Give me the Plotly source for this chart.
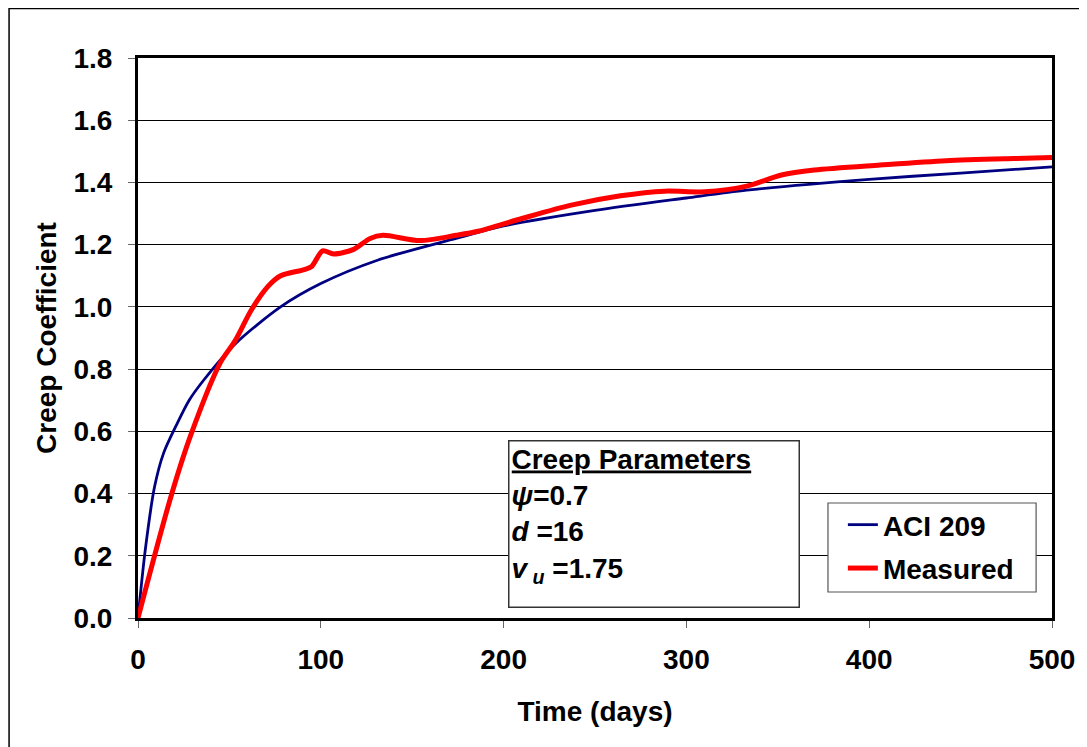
import plotly.graph_objects as go

# ---- data ----
aci_days = [0, 4, 9, 14, 21, 28, 36, 53, 78, 100, 131, 174, 200, 250, 300, 333, 400, 450, 500]
aci_vals = [0, 0.22, 0.42, 0.53, 0.62, 0.70, 0.765, 0.88, 1.0, 1.075, 1.15, 1.22, 1.26, 1.31, 1.35, 1.375, 1.41, 1.43, 1.45]

meas_days = [0, 18, 29, 45, 53, 62, 71, 78, 91, 95, 101, 107, 118, 127, 134, 154, 174, 186,
             210, 237, 264, 288, 310, 333, 352, 370, 406, 442, 479, 500]
meas_vals = [0, 0.39, 0.59, 0.82, 0.89, 0.99, 1.065, 1.10, 1.12, 1.13, 1.18, 1.17, 1.185, 1.22, 1.23, 1.213, 1.23, 1.243,
             1.284, 1.327, 1.357, 1.372, 1.37, 1.388, 1.424, 1.44, 1.456, 1.47, 1.477, 1.48]

x_ticks = [0, 100, 200, 300, 400, 500]
y_ticks = [0.0, 0.2, 0.4, 0.6, 0.8, 1.0, 1.2, 1.4, 1.6, 1.8]
y_tick_labels = [f"{v:.1f}" for v in y_ticks]

series_names = ["ACI 209", "Measured"]
x_title = "Time (days)"
y_title = "Creep Coefficient"
param_text = ("<u><b>Creep Parameters</b></u><br>"
              "<b><i>ψ</i>=0.7</b><br>"
              "<b><i>d</i> =16</b><br>"
              "<b><i>v</i><sub><i> u</i></sub> =1.75</b>")

FONT = "Liberation Sans, Arial, sans-serif"
FS = 28

fig = go.Figure()
fig.add_trace(go.Scatter(x=aci_days, y=aci_vals, mode="lines", name=series_names[0],
                         line=dict(color="#000080", width=2.8, shape="spline", smoothing=0.8),
                         legendgroup="a"))
fig.add_trace(go.Scatter(x=meas_days, y=meas_vals, mode="lines", name=series_names[1],
                         line=dict(color="#FF0000", width=5, shape="spline", smoothing=0.8),
                         legendgroup="b"))

fig.update_layout(
    width=1079, height=739,
    margin=dict(l=130, r=30, t=50, b=129),
    paper_bgcolor="white", plot_bgcolor="white",
    font=dict(family=FONT, size=FS, color="black"),
    showlegend=True,
    legend=dict(x=0.7712, y=0.2108, xanchor="left", yanchor="top",
                bgcolor="rgba(0,0,0,0)", borderwidth=0,
                font=dict(family=FONT, size=FS, color="black", weight="bold"),
                tracegroupgap=4, itemwidth=30),
)

fig.update_xaxes(
    range=[0, 500], tickvals=x_ticks, ticktext=[str(v) for v in x_ticks],
    showgrid=False, zeroline=False,
    showline=True, linecolor="black", linewidth=3, mirror=True,
    ticks="outside", ticklen=7, tickcolor="#666666", tickwidth=1,
    tickfont=dict(family=FONT, size=FS, color="black", weight="bold"),
    ticklabelstandoff=7,
    title=dict(text=f"<b>{x_title}</b>", font=dict(family=FONT, size=FS), standoff=28),
)
fig.update_yaxes(
    range=[0, 1.8], tickvals=y_ticks, ticktext=y_tick_labels,
    showgrid=True, gridcolor="black", gridwidth=1, zeroline=False,
    showline=True, linecolor="black", linewidth=3, mirror=True,
    ticks="outside", ticklen=7, tickcolor="#666666", tickwidth=1,
    tickfont=dict(family=FONT, size=FS, color="black", weight="bold"),
    ticklabelstandoff=10,
    title=dict(text=f"<b>{y_title}</b>", font=dict(family=FONT, size=FS), standoff=9),
)

fig.add_annotation(
    xref="paper", yref="paper", x=0.4052, y=0.3179, xanchor="left", yanchor="top",
    text=param_text, showarrow=False, align="left", valign="top",
    width=285, height=161, borderpad=2,
    bordercolor="#333333", borderwidth=1.5, bgcolor="white",
    font=dict(family=FONT, size=FS, color="black"),
)

# legend box
fig.add_shape(type="rect", xref="paper", yref="paper",
              x0=0.7549, x1=0.9826, y0=0.0464, y1=0.2054,
              line=dict(color="#555555", width=1.2), fillcolor="white", layer="above")

# outer chart border (right and bottom edges lie outside the picture)
fig.add_shape(type="rect", xref="paper", yref="paper",
              x0=-129.5 / 918, x1=1.08, y0=-0.26, y1=1 + 49.5 / 560,
              line=dict(color="black", width=1.5), layer="below")

fig.write_html("out.html")
